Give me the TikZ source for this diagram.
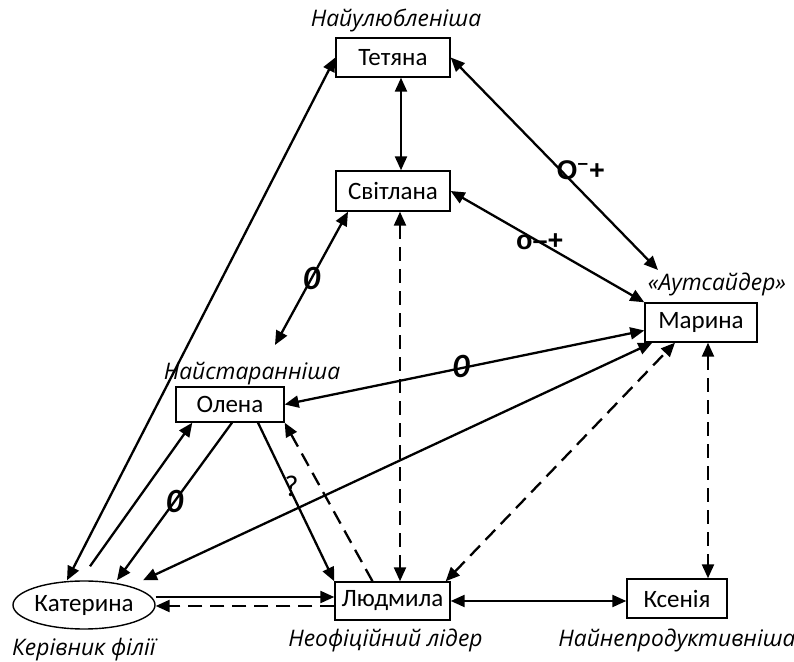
\documentclass[tikz,border=0pt]{standalone}
\usepackage{fontspec}
\setmainfont{Carlito}
\newfontfamily\notefont{Open Sans}
\newfontfamily\signfont{Liberation Sans}
\usetikzlibrary{arrows.meta,shapes.geometric}
\tikzset{
	member/.style={draw, line width=0.7pt, inner sep=0pt, minimum width=57pt, minimum height=19.5pt, font=\fontsize{12.5}{14}\selectfont},
	chief/.style={member, ellipse, minimum width=71pt, minimum height=24pt},
	note/.style={inner sep=0pt, font=\notefont\itshape\fontsize{11.4}{13}\selectfont},
	link/.style={line width=1.15pt},
	guess/.style={link, dash pattern=on 7pt off 4pt},
	zero/.style={inner sep=0pt, font=\bfseries\itshape\fontsize{17}{17}\selectfont},
	sign/.style={inner sep=0pt, font=\signfont\bfseries\fontsize{13.5}{13.5}\selectfont},
}
\begin{document}
\begin{tikzpicture}[x=0.5pt, y=-0.5pt, >={Triangle[length=7pt,width=6pt]}]
	\useasboundingbox (0,0) rectangle (794,662);
	% people
	\node[member] (tet) at (393,57.5) {Тетяна};
	\node[member, minimum height=20pt] (svt) at (393,191) {Світлана};
	\node[member, minimum width=56pt] (mar) at (701,322.5) {Марина};
	\node[member, minimum width=54pt, minimum height=17.5pt] (ole) at (230,404.5) {Олена};
	\node[chief] (kat) at (84,605) {Катерина};
	\node[member, minimum width=57.5pt, minimum height=19pt] (lud) at (392.5,601) {Людмила};
	\node[member, minimum width=50pt] (kse) at (677,598.5) {Ксенія};
	% roles
	\node[note] (fav) at (tet.north) [above=2.5pt, xshift=1.5pt] {Найулюбленіша};
	\node[note] (dil) at (ole.north) [above=0.5pt, xshift=11pt] {Найстаранніша};
	\node[note] (out) at (mar.north) [above=3pt, xshift=8pt] {«Аутсайдер»};
	\node[note] (head) at (kat.south) [below=4pt] {Керівник філії};
	\node[note] (lead) at (lud.south) [below=4pt, xshift=-3.5pt] {Неофіційний лідер};
	\node[note] (weak) at (kse.south) [below=5pt] {Найнепродуктивніша};
	% free ends
	\coordinate (out-tip) at (658,270);
	\coordinate (dil-tip) at (275,345);
	% relations
	\draw[link, <->] ([xshift=-8.5pt]kat.north) -- (tet.west);
	\draw[link, <->] ([xshift=4pt]tet.south) -- ([xshift=4pt]svt.north);
	\draw[link, <->] (tet.east) -- node[sign, pos=0.54, xshift=9pt, yshift=1pt] {O\textsuperscript{\textendash}+} (out-tip);
	\draw[link, <->] (svt.east) -- node[sign, pos=0.46] {o\textendash+} (mar.north west);
	\draw[link, <->] ([xshift=-22.5pt]svt.south) -- node[zero, pos=0.5] {0} (dil-tip);
	\draw[guess, <->] ([xshift=3.5pt]svt.south) -- ([xshift=3.5pt]svt.south |- lud.north);
	\draw[link, <->] ([yshift=-4pt]mar.west) -- node[zero, pos=0.51, yshift=1pt] {0} (ole.east);
	\draw[link, <->] ([xshift=4pt]mar.south west) -- ([xshift=29.5pt]kat.north);
	\draw[guess, <->] ([xshift=-2.5pt]lud.north east) -- ([xshift=-13pt]mar.south);
	\draw[guess, <->] ([xshift=3.5pt]mar.south) -- ([xshift=3.5pt]mar.south |- kse.north);
	\draw[link, <->] (lud.east) -- (lud.east -| kse.west);
	\draw[link, ->] ([yshift=4pt]kat.east) -- ([yshift=4pt]kat.east -| lud.west);
	\draw[guess, ->] ([yshift=-2.5pt]lud.west) -- ([yshift=-2.5pt]lud.west -| kat.east);
	\draw[link, ->] ([xshift=3pt, yshift=7pt]kat.north) -- ([xshift=8.5pt]ole.south west);
	\draw[link, ->] ([xshift=1pt]ole.south) -- node[zero, pos=0.5] {0} ([xshift=16.5pt]kat.north);
	\draw[link, ->] ([xshift=14pt]ole.south) -- node[font=\fontsize{15}{15}\selectfont, inner sep=0pt, pos=0.4, xshift=1.5pt] {?} (lud.north west);
	\draw[guess, ->] ([xshift=-10pt]lud.north) -- (ole.south east);
\end{tikzpicture}
\end{document}
